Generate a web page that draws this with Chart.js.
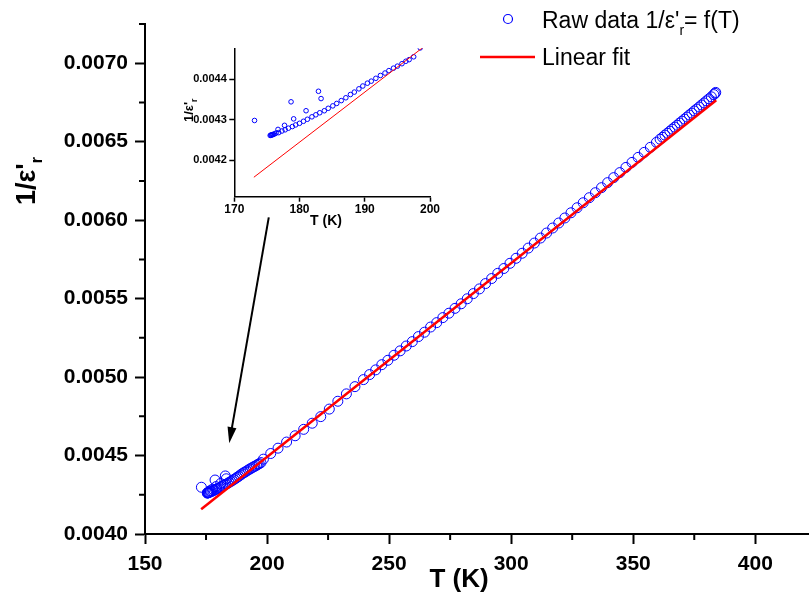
<!DOCTYPE html>
<html>
<head>
<meta charset="utf-8">
<script src="https://cdn.jsdelivr.net/npm/chart.js@4.4.1/dist/chart.umd.min.js"></script>
<style>
html, body { margin: 0; padding: 0; background: #fff; }
#wrap { position: relative; width: 809px; height: 593px; overflow: hidden; }
#main { position: absolute; left: 0; top: 0; }
#inset { position: absolute; left: 170px; top: 30px; }
</style>
</head>
<body>
<div id="wrap">
<canvas id="main" width="809" height="593"></canvas>
<canvas id="inset" width="280" height="200"></canvas>
</div>
<script>
// raw data 1/eps'r vs T (K)
const rawT = [
    173.1, 175.5, 175.6, 175.7, 175.8, 175.9, 176.0, 176.2, 176.4, 176.7, 176.8, 177.3, 177.7, 177.8, 178.3,
    178.7, 178.9, 179.1, 179.4, 180.0, 180.6, 181.0, 181.2, 181.9, 182.5, 182.9, 183.1, 183.3, 183.8, 184.4,
    185.1, 185.7, 186.4, 187.1, 187.8, 188.4, 189.1, 189.7, 190.4, 191.0, 191.7, 192.4, 193.1, 193.7, 194.4,
    195.0, 195.7, 196.3, 196.8, 197.5,
    198.5, 201.5, 204.5, 208.0, 211.5, 215.0, 218.5, 222.0, 225.5, 229.0, 232.5, 236.0, 239.5,
    242.0, 244.5, 247.0, 249.5, 252.0, 254.5, 257.0, 259.5, 262.0, 264.5, 267.0, 269.5, 272.0, 274.5,
    277.0, 279.5, 282.0, 284.5, 287.0, 289.5, 292.0, 294.5, 297.0, 299.5, 302.0, 304.5, 307.0, 309.5,
    312.0, 314.5, 317.0, 319.5, 322.0, 324.5, 327.0, 329.5, 332.0, 334.5, 337.0, 339.5, 342.0, 344.5,
    347.0, 349.5, 352.0, 354.5, 357.0, 359.5,
    361, 362, 363, 364, 365, 366, 367, 368, 369, 370, 371, 372, 373, 374, 375, 376, 377, 378, 379, 380,
    381, 382, 383, 383.5, 383.8
];
const rawV = [
    0.004298, 0.004261, 0.004262, 0.004262, 0.004263, 0.004263, 0.004264, 0.004265, 0.004267, 0.004276,
    0.004268, 0.004272, 0.004286, 0.004275, 0.004279, 0.004344, 0.004283, 0.004302, 0.004287, 0.004291,
    0.004296, 0.004322, 0.004301, 0.004307, 0.004312, 0.004370, 0.004317, 0.004352, 0.004322, 0.004328,
    0.004334, 0.004340, 0.004347, 0.004354, 0.004362, 0.004368, 0.004376, 0.004383, 0.004390, 0.004395,
    0.004402, 0.004409, 0.004415, 0.004421, 0.004427, 0.004432, 0.004438, 0.004444, 0.004448, 0.004455,
    0.004477, 0.004513, 0.004547, 0.004586, 0.004626, 0.004667, 0.004706, 0.004748, 0.004796, 0.004846,
    0.004893, 0.004939, 0.004984,
    0.005016, 0.005046, 0.005079, 0.005107, 0.005139, 0.005167, 0.005198, 0.005226, 0.005258, 0.005286,
    0.005319, 0.005347, 0.005379, 0.005407, 0.005438, 0.005467, 0.005499, 0.005532, 0.005562, 0.005596,
    0.005628, 0.005661, 0.005692, 0.005725, 0.005757, 0.005789, 0.005822, 0.005854, 0.005886, 0.005918,
    0.005950, 0.005982, 0.006014, 0.006047, 0.006079, 0.006111, 0.006143, 0.006175, 0.006207, 0.006239,
    0.006271, 0.006303, 0.006336, 0.006368, 0.006400, 0.006432, 0.006464, 0.006496,
    0.006516, 0.006528, 0.006542, 0.006554, 0.006567, 0.006580, 0.006593, 0.006605, 0.006619, 0.006631,
    0.006644, 0.006657, 0.006670, 0.006682, 0.006696, 0.006708, 0.006721, 0.006734, 0.006747, 0.006760,
    0.006773, 0.006786, 0.006800, 0.006808, 0.006814
];
// linear fit end points
const fitT = [173, 384];
const fitV = [0.004158, 0.006764];

// ticks
const xMajor = [150, 200, 250, 300, 350, 400];
const xMinor = [175, 225, 275, 325, 375];
const yMajor = [0.0040, 0.0045, 0.0050, 0.0055, 0.0060, 0.0065, 0.0070];
const yMinor = [0.00425, 0.00475, 0.00525, 0.00575, 0.00625, 0.00675, 0.00725];
const insetXTicks = [170, 180, 190, 200];
const insetYTicks = [0.0042, 0.0043, 0.0044];

// arrow from inset to the low T region (data units)
const arrowFrom = { x: 200.7, y: 0.006018 };
const arrowTo = { x: 184.5, y: 0.004579 };

const FONT = "'Liberation Sans', Arial, sans-serif";
const rawPoints = rawT.map((t, i) => ({ x: t, y: rawV[i] }));
const fitPoints = fitT.map((t, i) => ({ x: t, y: fitV[i] }));

function drawEps(ctx, x, y, size, subSize, subDy, bold, tail) {
    const w = bold ? "bold " : "";
    ctx.font = w + size + "px " + FONT;
    ctx.fillText("1/ε'", x, y);
    let cx = x + ctx.measureText("1/ε'").width;
    ctx.font = w + subSize + "px " + FONT;
    ctx.fillText("r", cx, y + subDy);
    cx += ctx.measureText("r").width;
    if (tail) {
        ctx.font = w + size + "px " + FONT;
        ctx.fillText(tail, cx, y);
    }
}

const mainDecor = {
    id: "mainDecor",
    afterDraw(chart) {
        const { ctx, scales: { x, y } } = chart;
        ctx.save();
        // minor ticks
        ctx.strokeStyle = "#000";
        ctx.lineWidth = 2;
        ctx.beginPath();
        xMinor.forEach(v => {
            const px = x.getPixelForValue(v);
            ctx.moveTo(px, x.top);
            ctx.lineTo(px, x.top + 6);
        });
        yMinor.forEach(v => {
            const py = y.getPixelForValue(v);
            ctx.moveTo(y.right, py);
            ctx.lineTo(y.right - 6, py);
        });
        ctx.stroke();

        // arrow
        const x0 = x.getPixelForValue(arrowFrom.x), y0 = y.getPixelForValue(arrowFrom.y);
        const x1 = x.getPixelForValue(arrowTo.x), y1 = y.getPixelForValue(arrowTo.y);
        const ang = Math.atan2(y1 - y0, x1 - x0);
        ctx.lineWidth = 2;
        ctx.beginPath();
        ctx.moveTo(x0, y0);
        ctx.lineTo(x1 - 12 * Math.cos(ang), y1 - 12 * Math.sin(ang));
        ctx.stroke();
        ctx.fillStyle = "#000";
        ctx.beginPath();
        ctx.moveTo(x1, y1);
        ctx.lineTo(x1 - 16 * Math.cos(ang) + 4.5 * Math.sin(ang), y1 - 16 * Math.sin(ang) - 4.5 * Math.cos(ang));
        ctx.lineTo(x1 - 16 * Math.cos(ang) - 4.5 * Math.sin(ang), y1 - 16 * Math.sin(ang) + 4.5 * Math.cos(ang));
        ctx.closePath();
        ctx.fill();

        // axis titles
        ctx.fillStyle = "#000";
        ctx.textAlign = "center";
        ctx.textBaseline = "alphabetic";
        ctx.font = "bold 26px " + FONT;
        ctx.fillText("T (K)", 459, 587);

        ctx.save();
        ctx.translate(35, 205);
        ctx.rotate(-Math.PI / 2);
        ctx.textAlign = "left";
        drawEps(ctx, 0, 0, 27, 16, 7, true);
        ctx.restore();

        // legend
        ctx.textAlign = "left";
        ctx.strokeStyle = "#0000ff";
        ctx.lineWidth = 1.2;
        ctx.beginPath();
        ctx.arc(508, 19, 4.5, 0, Math.PI * 2);
        ctx.stroke();
        ctx.fillStyle = "#000";
        ctx.font = "23px " + FONT;
        ctx.fillText("Raw data ", 542, 28);
        const w0 = ctx.measureText("Raw data ").width;
        drawEps(ctx, 542 + w0, 28, 23, 14, 7, false, "= f(T)");

        ctx.strokeStyle = "#ff0000";
        ctx.lineWidth = 2.5;
        ctx.beginPath();
        ctx.moveTo(480, 57);
        ctx.lineTo(535, 57);
        ctx.stroke();
        ctx.font = "23px " + FONT;
        ctx.fillText("Linear fit", 542, 65);
        ctx.restore();
    }
};

new Chart(document.getElementById("main"), {
    type: "scatter",
    data: {
        datasets: [{
            type: "line",
            label: "Linear fit",
            data: fitPoints,
            borderColor: "#ff0000",
            borderWidth: 2.5,
            pointRadius: 0,
            fill: false,
            tension: 0
        }, {
            label: "Raw data",
            data: rawPoints,
            borderColor: "#0000ff",
            backgroundColor: "rgba(0,0,0,0)",
            borderWidth: 1,
            pointRadius: 5,
            pointHoverRadius: 5
        }]
    },
    options: {
        responsive: false,
        animation: false,
        devicePixelRatio: 1,
        layout: { autoPadding: false, padding: { top: 24, right: 0, bottom: 0, left: 0 } },
        plugins: { legend: { display: false }, tooltip: { enabled: false } },
        scales: {
            x: {
                type: "linear",
                min: 150,
                max: 422,
                afterBuildTicks: axis => { axis.ticks = xMajor.map(v => ({ value: v })); },
                afterFit: scale => {
                    scale.height = 59;
                    scale.paddingLeft = 0;
                    scale.paddingRight = 0;
                },
                border: { display: true, color: "#000", width: 2 },
                grid: { drawOnChartArea: false, drawTicks: true, tickLength: 10, tickWidth: 2, tickColor: "#000" },
                ticks: {
                    color: "#000",
                    padding: 8,
                    maxRotation: 0,
                    font: { family: FONT, size: 21, weight: "bold" },
                    callback: v => String(v)
                }
            },
            y: {
                type: "linear",
                min: 0.0040,
                max: 0.00725,
                afterBuildTicks: axis => { axis.ticks = yMajor.map(v => ({ value: v })); },
                afterFit: scale => {
                    scale.width = 145;
                    scale.paddingTop = 0;
                    scale.paddingBottom = 0;
                },
                border: { display: true, color: "#000", width: 2 },
                grid: { drawOnChartArea: false, drawTicks: true, tickLength: 10, tickWidth: 2, tickColor: "#000" },
                ticks: {
                    color: "#000",
                    padding: 7,
                    font: { family: FONT, size: 21, weight: "bold" },
                    callback: v => v.toFixed(4)
                }
            }
        }
    },
    plugins: [mainDecor]
});

const insetDecor = {
    id: "insetDecor",
    afterDraw(chart) {
        const { ctx } = chart;
        ctx.save();
        ctx.fillStyle = "#000";
        ctx.textAlign = "center";
        ctx.textBaseline = "alphabetic";
        ctx.font = "bold 14px " + FONT;
        ctx.fillText("T (K)", 156, 195);
        ctx.translate(23, 92);
        ctx.rotate(-Math.PI / 2);
        ctx.textAlign = "left";
        drawEps(ctx, 0, 0, 13, 9, 4, true);
        ctx.restore();
    }
};

new Chart(document.getElementById("inset"), {
    type: "scatter",
    data: {
        datasets: [{
            type: "line",
            data: fitPoints,
            borderColor: "#ff0000",
            borderWidth: 1,
            pointRadius: 0,
            fill: false,
            tension: 0
        }, {
            data: rawPoints,
            borderColor: "#0000ff",
            backgroundColor: "rgba(0,0,0,0)",
            borderWidth: 1,
            pointRadius: 2.3,
            pointHoverRadius: 2.3
        }]
    },
    options: {
        responsive: false,
        animation: false,
        devicePixelRatio: 1,
        layout: { autoPadding: false, padding: { top: 18.3, right: 20, bottom: 0, left: 0 } },
        plugins: { legend: { display: false }, tooltip: { enabled: false } },
        scales: {
            x: {
                type: "linear",
                min: 170,
                max: 200,
                afterBuildTicks: axis => { axis.ticks = insetXTicks.map(v => ({ value: v })); },
                afterFit: scale => {
                    scale.height = 33.3;
                    scale.paddingLeft = 0;
                    scale.paddingRight = 0;
                },
                border: { display: true, color: "#000", width: 1.5 },
                grid: { drawOnChartArea: false, drawTicks: true, tickLength: 5, tickWidth: 1.5, tickColor: "#000" },
                ticks: {
                    color: "#000",
                    padding: 1,
                    maxRotation: 0,
                    font: { family: FONT, size: 12, weight: "bold" },
                    callback: v => String(v)
                }
            },
            y: {
                type: "linear",
                min: 0.00411,
                max: 0.004476,
                afterBuildTicks: axis => { axis.ticks = insetYTicks.map(v => ({ value: v })); },
                afterFit: scale => {
                    scale.width = 64.3;
                    scale.paddingTop = 0;
                    scale.paddingBottom = 0;
                },
                border: { display: true, color: "#000", width: 1.5 },
                grid: { drawOnChartArea: false, drawTicks: true, tickLength: 5, tickWidth: 1.5, tickColor: "#000" },
                ticks: {
                    color: "#000",
                    padding: 2.5,
                    font: { family: FONT, size: 11, weight: "bold" },
                    callback: v => v.toFixed(4)
                }
            }
        }
    },
    plugins: [insetDecor]
});
</script>
</body>
</html>
